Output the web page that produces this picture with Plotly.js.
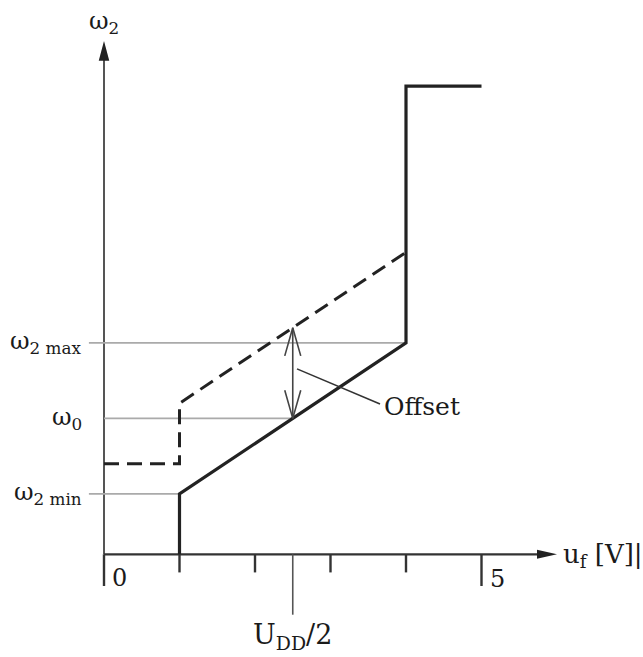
<!DOCTYPE html>
<html>
<head>
<meta charset="utf-8">
<script src="https://cdn.plot.ly/plotly-3.0.1.min.js"></script>
<style>html,body{margin:0;padding:0;background:#fff;}#chart{width:643px;height:657px;}</style>
</head>
<body>
<div id="chart"></div>
<script>
// ---- data ----
const solidX = [1, 1, 4, 4, 5];
const solidY = [0, 2, 7, 15.5, 15.5];
const dashedX = [0, 1, 1, 4];
const dashedY = [3, 3, 5, 10];
const levelLabels = ['ω<sub>2 max</sub>', 'ω<sub>0</sub>', 'ω<sub>2 min</sub>'];
const levelValues = [7, 4.5, 2];
const levelStartX = [-0.2, 0, -0.2];
const levelEndX = [4, 2.5, 1];
const tickValues = [0, 1, 2, 3, 4, 5];
const tickLabels = ['0', '', '', '', '', '5'];
const halfSupplyX = 2.5;
const halfSupplyLabel = 'U<sub>DD</sub>/2';
const offsetTop = 7.5;
const offsetBottom = 4.5;
const xAxisEnd = 6;
const yAxisEnd = 17;

const FONT = 'DejaVu Serif, Liberation Serif, serif';
const traces = [];
const noHover = {hoverinfo: 'skip', showlegend: false};

// y axis & x axis lines
traces.push(Object.assign({x: [0, 0], y: [0, yAxisEnd - 0.5], mode: 'lines', line: {color: '#555', width: 2}}, noHover));
traces.push(Object.assign({x: [0, xAxisEnd - 0.2], y: [0, 0], mode: 'lines', line: {color: '#333', width: 2.2}}, noHover));

// level lines
levelValues.forEach((v, i) => {
  traces.push(Object.assign({x: [levelStartX[i], levelEndX[i]], y: [v, v], mode: 'lines', line: {color: '#aaa', width: 1.6}}, noHover));
});

// ticks
tickValues.forEach((t, i) => {
  const major = tickLabels[i] !== '';
  traces.push(Object.assign({x: [t, t], y: [0, major ? -1.05 : -0.6], mode: 'lines', line: {color: '#333', width: 2.4}}, noHover));
});
// U_DD/2 marker
traces.push(Object.assign({x: [halfSupplyX, halfSupplyX], y: [0, -2.0], mode: 'lines', line: {color: '#555', width: 1.6}}, noHover));

// dashed characteristic
traces.push(Object.assign({x: dashedX, y: dashedY, mode: 'lines', line: {color: '#222', width: 3, dash: '15px,8px'}}, noHover));
// solid characteristic
traces.push(Object.assign({x: solidX, y: solidY, mode: 'lines', line: {color: '#222', width: 3.2}}, noHover));

// offset double arrow
const hw = 0.106, hl = 0.93;
traces.push(Object.assign({x: [halfSupplyX, halfSupplyX], y: [offsetBottom, offsetTop], mode: 'lines', line: {color: '#444', width: 1.6}}, noHover));
traces.push(Object.assign({x: [halfSupplyX - hw, halfSupplyX, halfSupplyX + hw], y: [offsetTop - hl, offsetTop, offsetTop - hl], mode: 'lines', line: {color: '#444', width: 1.6}}, noHover));
traces.push(Object.assign({x: [halfSupplyX - hw, halfSupplyX, halfSupplyX + hw], y: [offsetBottom + hl, offsetBottom, offsetBottom + hl], mode: 'lines', line: {color: '#444', width: 1.6}}, noHover));
// offset pointer
traces.push(Object.assign({x: [2.556, 3.656], y: [6.14, 4.98], mode: 'lines', line: {color: '#333', width: 1.6}}, noHover));

const annotations = [];
const ann = (x, y, text, xanchor, size) => annotations.push({x: x, y: y, xref: 'x', yref: 'y', text: text, showarrow: false, xanchor: xanchor || 'center', yanchor: 'middle', font: {family: FONT, size: size || 24, color: '#1a1a1a'}});
levelValues.forEach((v, i) => ann(-0.26, v, levelLabels[i], 'right', 24));
ann(0.08, -0.8, tickLabels[0], 'left', 24);
ann(5.08, -0.82, tickLabels[5], 'left', 24);
ann(halfSupplyX, -2.72, halfSupplyLabel, 'center', 27);
ann(6.05, -0.05, 'u<sub>f</sub> [V]|', 'left', 26);
ann(0, 17.6, 'ω<sub>2</sub>', 'center', 24);
ann(3.68, 4.88, 'Offset', 'left', 25);

// arrowheads of axes
const shapes = [
  {type: 'path', xref: 'x', yref: 'y', path: `M0,${yAxisEnd} L-0.07,${yAxisEnd - 0.66} L0.07,${yAxisEnd - 0.66} Z`, fillcolor: '#222', line: {width: 0}},
  {type: 'path', xref: 'x', yref: 'y', path: `M${xAxisEnd},0 L${xAxisEnd - 0.265},0.15 L${xAxisEnd - 0.265},-0.15 Z`, fillcolor: '#222', line: {width: 0}}
];

const layout = {
  width: 643, height: 657,
  margin: {l: 0, r: 0, t: 0, b: 0},
  paper_bgcolor: '#fff', plot_bgcolor: '#fff',
  xaxis: {range: [-1.3775, 7.139], visible: false, fixedrange: true},
  yaxis: {range: [-3.4007, 18.354], visible: false, fixedrange: true},
  annotations: annotations,
  shapes: shapes,
  showlegend: false
};
Plotly.newPlot('chart', traces, layout, {displayModeBar: false, staticPlot: true});
</script>
</body>
</html>
